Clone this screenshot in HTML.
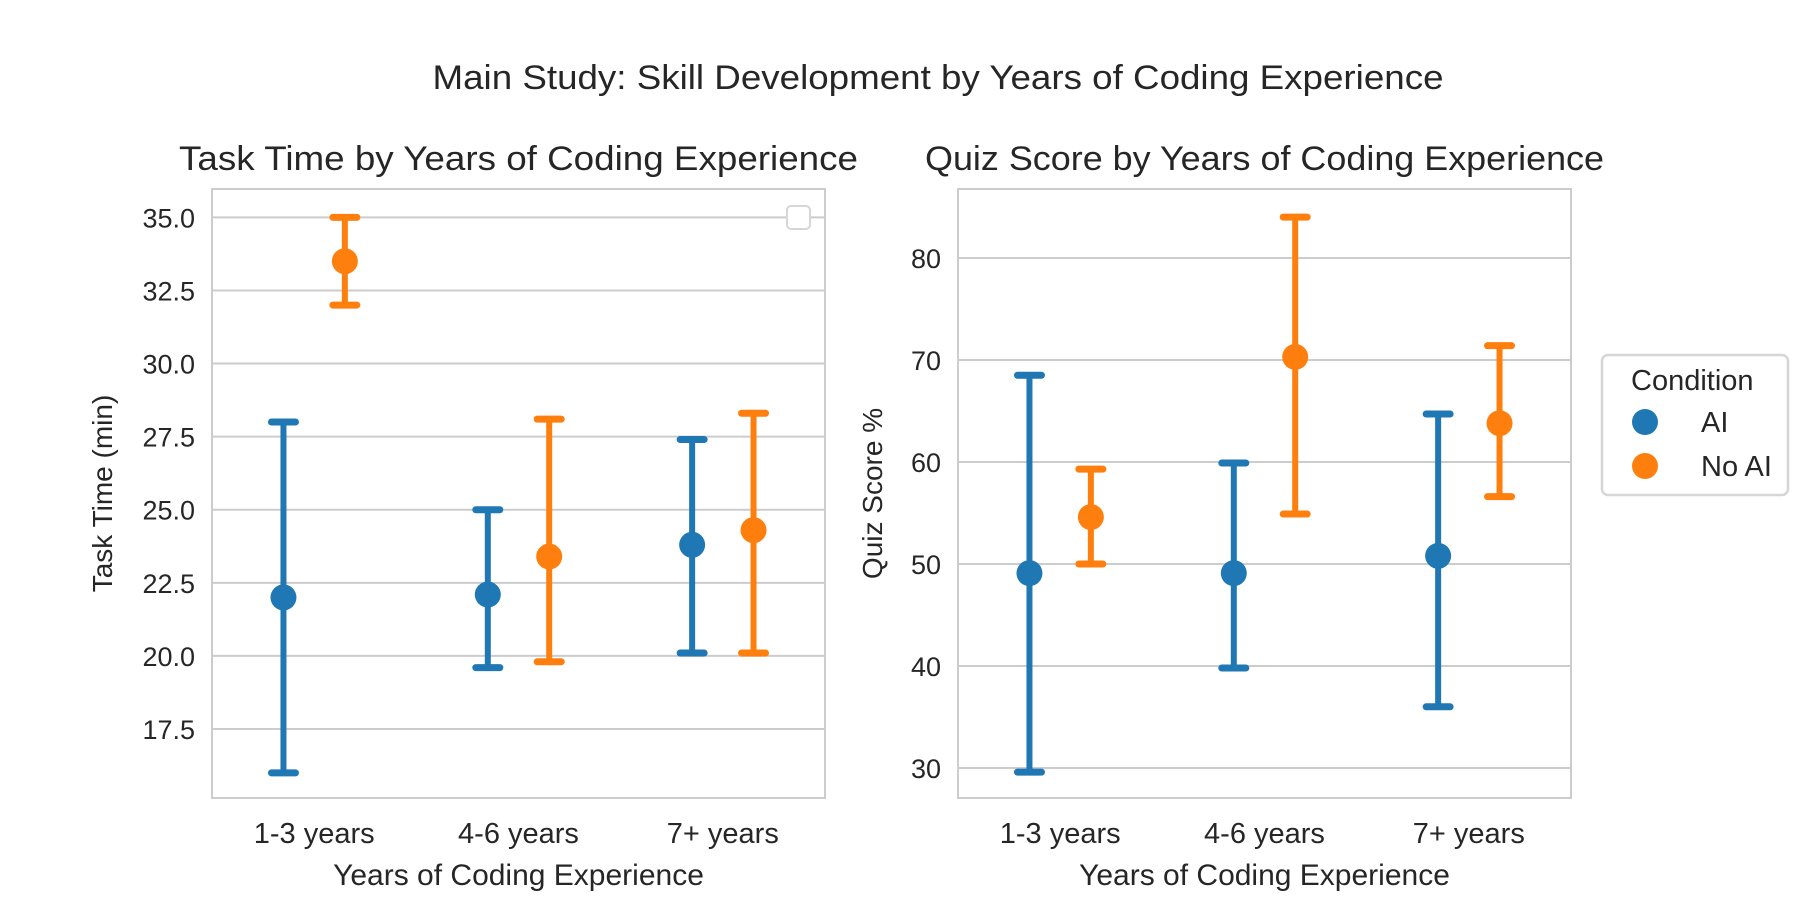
<!DOCTYPE html>
<html><head><meta charset="utf-8"><style>
html,body{margin:0;padding:0;background:#fff;}
svg{display:block;font-family:"Liberation Sans",Arial,sans-serif;}
</style></head><body>
<svg id="chart" width="1814" height="924" viewBox="0 0 1814 924" xmlns="http://www.w3.org/2000/svg">
<text x="938" y="89" font-size="34" fill="#262626" text-anchor="middle" textLength="1011" lengthAdjust="spacingAndGlyphs">Main Study: Skill Development by Years of Coding Experience</text>
<g id="left"></g>
<g id="right"></g>
<g>
<rect x="1602" y="355" width="186" height="140" rx="6" fill="#fff" stroke="#d6d6d6" stroke-width="2.5"/>
<text x="1631" y="390" font-size="29" fill="#262626">Condition</text>
<circle cx="1645" cy="422" r="13" fill="#1f77b4"/>
<text x="1701" y="432" font-size="29" fill="#262626">AI</text>
<circle cx="1645" cy="466" r="13" fill="#ff7f0e"/>
<text x="1701" y="476" font-size="29" fill="#262626">No AI</text>
</g>
</svg>
<script>
const categories = ["1-3 years","4-6 years","7+ years"];
const taskAI = [22.0,22.1,23.8];
const taskAILo = [16.0,19.6,20.1];
const taskAIHi = [28.0,25.0,27.4];
const taskNoAI = [33.5,23.4,24.3];
const taskNoAILo = [32.0,19.8,20.1];
const taskNoAIHi = [35.0,28.1,28.3];
const quizAI = [49.1,49.1,50.8];
const quizAILo = [29.6,39.8,36.0];
const quizAIHi = [68.5,59.9,64.7];
const quizNoAI = [54.6,70.3,63.8];
const quizNoAILo = [50.0,54.9,56.6];
const quizNoAIHi = [59.3,84.0,71.4];
const taskTicks = ["17.5","20.0","22.5","25.0","27.5","30.0","32.5","35.0"];
const quizTicks = ["30","40","50","60","70","80"];

const NS="http://www.w3.org/2000/svg";
function mk(parent,tag,attrs,text){const e=document.createElementNS(NS,tag);for(const k in attrs)e.setAttribute(k,attrs[k]);if(text!==undefined)e.textContent=text;parent.appendChild(e);return e;}

function panel(g,cfg){
  const {x0,x1,y0,y1,vmin,vmax,ticks,title,ylabel,ylabelX,series}=cfg;
  const y=v=>y1-(v-vmin)/(vmax-vmin)*(y1-y0);
  const bw=(x1-x0)/categories.length;
  const xc=i=>x0+bw*(i+0.5);
  ticks.forEach(t=>{
    const v=parseFloat(t);
    const gl=mk(g,'line',{x1:x0,x2:x1,y1:y(v),y2:y(v),stroke:'#cccccc','stroke-width':2});
    
    
    const tl=mk(g,'text',{x:x0-17,y:y(v)+10,'font-size':27,fill:'#262626','text-anchor':'end'},t);
    
    
  });
  const fr=mk(g,'rect',{x:x0,y:y0,width:x1-x0,height:y1-y0,fill:'none',stroke:'#cccccc','stroke-width':2});
  
  
  categories.forEach((c,i)=>{
    const tl=mk(g,'text',{x:xc(i),y:843,'font-size':29,fill:'#262626','text-anchor':'middle'},c);
    
    
  });
  const xt=mk(g,'text',{x:(x0+x1)/2,y:885,'font-size':30,fill:'#262626','text-anchor':'middle'},'Years of Coding Experience');
  
  
  const yt=mk(g,'text',{x:0,y:0,'font-size':28,fill:'#262626','text-anchor':'middle',transform:`translate(${ylabelX},${(y0+y1)/2}) rotate(-90)`},ylabel);
  
  
  const tt=mk(g,'text',{x:(x0+x1)/2,y:170,'font-size':34,fill:'#262626','text-anchor':'middle',textLength:679,lengthAdjust:'spacingAndGlyphs'},title);
  
  
  series.forEach((s,si)=>{
    const off=si===0?-30.7:30.7;
    s.mean.forEach((m,i)=>{
      const cx=xc(i)+off;
      const ln=mk(g,'line',{x1:cx,x2:cx,y1:y(s.lo[i]),y2:y(s.hi[i]),stroke:s.color,'stroke-width':6});
      
      
      [s.lo[i],s.hi[i]].forEach(v=>{
        const cp=mk(g,'line',{x1:cx-12,x2:cx+12,y1:y(v),y2:y(v),stroke:s.color,'stroke-width':7,'stroke-linecap':'round'});
        
        
      });
      const pt=mk(g,'circle',{cx:cx,cy:y(m),r:13,fill:s.color});
      
      
    });
  });
}
panel(document.getElementById('left'),{x0:212,x1:825,y0:189,y1:798,vmin:15.14,vmax:35.97,ticks:taskTicks,
  title:'Task Time by Years of Coding Experience',ylabel:'Task Time (min)',ylabelX:112,
  series:[{mean:taskAI,lo:taskAILo,hi:taskAIHi,color:'#1f77b4'},{mean:taskNoAI,lo:taskNoAILo,hi:taskNoAIHi,color:'#ff7f0e'}]});
panel(document.getElementById('right'),{x0:958,x1:1571,y0:189,y1:798,vmin:27.06,vmax:86.76,ticks:quizTicks,
  title:'Quiz Score by Years of Coding Experience',ylabel:'Quiz Score %',ylabelX:882,
  series:[{mean:quizAI,lo:quizAILo,hi:quizAIHi,color:'#1f77b4'},{mean:quizNoAI,lo:quizNoAILo,hi:quizNoAIHi,color:'#ff7f0e'}]});
const eb=mk(document.getElementById('left'),'rect',{x:787,y:206,width:23,height:23,rx:4,fill:'#fff',stroke:'#d6d6d6','stroke-width':2});


</script>
</body></html>
